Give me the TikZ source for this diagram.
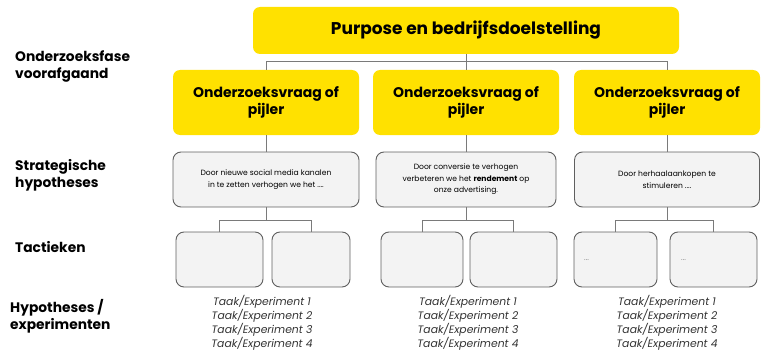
\documentclass[tikz,border=0pt]{standalone}
\usepackage{fontspec}
\setmainfont{Poppins}
\definecolor{pijlgeel}{HTML}{FFE100}
\definecolor{vakgrijs}{HTML}{F3F3F3}
\definecolor{randgrijs}{HTML}{5F5F5F}
\definecolor{lijngrijs}{HTML}{7A7A7A}
\tikzset{
  geelvak/.style={fill=pijlgeel, rounded corners=7pt, align=center, font=\bfseries\fontsize{14}{17}\selectfont},
  grijsvak/.style={fill=vakgrijs, draw=randgrijs, line width=0.9pt, rounded corners=8pt, align=center, font=\fontsize{7.6}{11.5}\selectfont},
  tactiek/.style={grijsvak, minimum width=#1, minimum height=55pt},
  verbind/.style={draw=lijngrijs, line width=1pt},
  fase/.style={anchor=west, align=left, font=\bfseries\fontsize{13.8}{17}\selectfont},
  taken/.style={align=center, font=\itshape\fontsize{10.8}{12.4}\selectfont, text=black!80},
  stippel/.style={anchor=west, font=\fontsize{7.5}{8}\selectfont, text=black!50},
}
\begin{document}
\begin{tikzpicture}[x=1pt, y=-1pt, inner sep=0pt]
  \useasboundingbox (0,0) rectangle (768,353);
  % Fasen links
  \node[fase] (fase1) at (15,66.5) {Onderzoeksfase\\voorafgaand};
  \node[fase] (fase2) at (15,175.5) {Strategische\\hypotheses};
  \node[fase] (fase3) at (15,247) {Tactieken};
  \node[fase] (fase4) at (10,316) {Hypotheses /\\experimenten};
  % Bovenste vak
  \node[geelvak, minimum width=426pt, minimum height=47pt, font=\bfseries\fontsize{17}{19}\selectfont] (doel) at (466,30.5) {Purpose en bedrijfsdoelstelling};
  % Onderzoeksvragen
  \node[geelvak, minimum width=186pt, minimum height=65pt] (vraag1) at (266,102.5) {Onderzoeksvraag of\\pijler};
  \node[geelvak, minimum width=186pt, minimum height=65pt] (vraag2) at (466,102.5) {Onderzoeksvraag of\\pijler};
  \node[geelvak, minimum width=186pt, minimum height=65pt] (vraag3) at (667,102.5) {Onderzoeksvraag of\\pijler};
  % Strategische hypotheses
  \node[grijsvak, minimum width=186pt, minimum height=55pt] (hypo1) at (266,179.5) {Door nieuwe social media kanalen\\in te zetten verhogen we het ....};
  \node[grijsvak, minimum width=180pt, minimum height=55pt] (hypo2) at (466,179.5) {Door conversie te verhogen\\verbeteren we het \textbf{rendement} op\\onze advertising.};
  \node[grijsvak, minimum width=185pt, minimum height=55pt] (hypo3) at (667,179.5) {Door herhaalaankopen te\\stimuleren ....};
  % Tactieken
  \node[tactiek=87pt] (tact1) at (219.5,259.5) {};
  \node[tactiek=78pt] (tact2) at (311,259.5) {};
  \node[tactiek=82pt] (tact3) at (422,259.5) {};
  \node[tactiek=87pt] (tact4) at (513.5,259.5) {};
  \node[tactiek=83pt] (tact5) at (615.5,259.5) {};
  \node[tactiek=87pt] (tact6) at (713.5,259.5) {};
  \node[stippel] (stip5) at (584,260) {...};
  \node[stippel] (stip6) at (681,260) {...};
  % Taken
  \foreach \n/\x in {1/262, 2/468, 3/667}
    \node[taken] (taak\n) at (\x,322.5) {Taak/Experiment 1\\Taak/Experiment 2\\Taak/Experiment 3\\Taak/Experiment 4};
  % Verbindingen
  \coordinate (split) at (466,62);
  \draw[verbind] (doel.south) -- (split);
  \draw[verbind] (split) -| (vraag1.north);
  \draw[verbind] (split) -| (vraag3.north);
  \draw[verbind] (split) -- (vraag2.north);
  \foreach \n in {1,2,3}
    \draw[verbind] (vraag\n.south) -- (hypo\n.north);
  \coordinate (tak1) at (266,220);
  \coordinate (tak2) at (466,220);
  \coordinate (tak3) at (667,220);
  \foreach \n/\a/\b in {1/1/2, 2/3/4, 3/5/6} {
    \draw[verbind] (hypo\n.south) -- (tak\n);
    \draw[verbind] (tak\n) -| (tact\a.north);
    \draw[verbind] (tak\n) -| (tact\b.north);
  }
\end{tikzpicture}
\end{document}
